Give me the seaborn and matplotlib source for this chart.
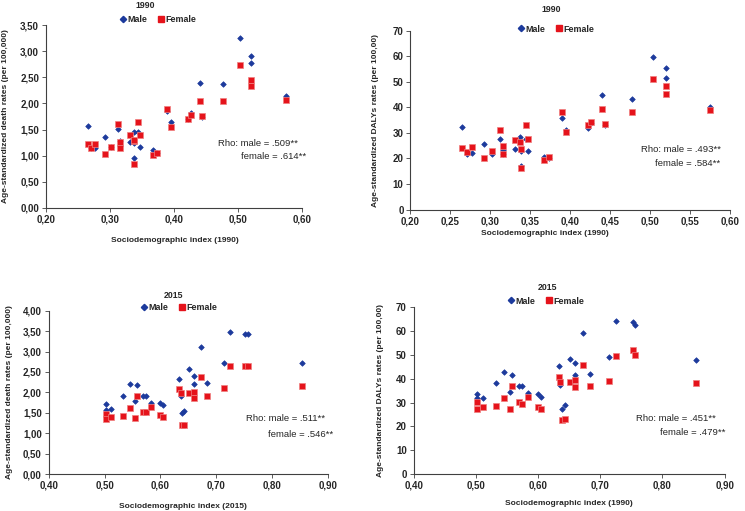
import matplotlib
matplotlib.use("Agg")
from matplotlib import pyplot as plt
from matplotlib import ticker
from matplotlib.lines import Line2D
import pandas as pd
import seaborn as sns

# SDI 1990 panels
sdi_1990 = [0.265, 0.271, 0.277, 0.292, 0.302, 0.312, 0.316, 0.316, 0.331, 0.337, 0.338, 0.338, 0.344, 0.347,
            0.367, 0.373, 0.389, 0.395, 0.422, 0.426, 0.440, 0.443, 0.477, 0.503, 0.520, 0.520, 0.574]
death_1990_male = [1.56, 1.14, 1.15, 1.35, 1.16, 1.51, 1.28, 1.18, 1.26, 1.45, 1.24, 0.95, 1.46, 1.16,
                   1.10, 1.05, 1.85, 1.64, 1.71, 1.81, 2.39, 1.75, 2.37, 3.25, 2.90, 2.77, 2.15]
death_1990_female = [1.22, 1.15, 1.22, 1.03, 1.16, 1.61, 1.27, 1.14, 1.39, 1.29, 1.31, 0.85, 1.64, 1.39,
                     1.02, 1.05, 1.90, 1.55, 1.71, 1.78, 2.04, 1.76, 2.04, 2.74, 2.45, 2.34, 2.07]
daly_1990_male = [32.4, 21.7, 22.3, 25.6, 21.7, 27.8, 23.5, 21.7, 23.6, 28.6, 23.0, 17.2, 27.8, 23.0,
                  20.6, 20.1, 35.8, 31.1, 32.1, 34.0, 44.8, 33.0, 43.4, 59.8, 55.5, 51.7, 40.0]
daly_1990_female = [24.0, 22.5, 24.6, 20.0, 22.9, 31.1, 24.9, 21.9, 27.2, 26.5, 23.9, 16.3, 33.0, 27.8,
                    19.6, 20.6, 38.4, 30.4, 33.3, 34.3, 39.2, 33.7, 38.1, 51.3, 48.3, 45.1, 38.9]

# SDI 2015 panels
sdi_2015 = [0.502, 0.502, 0.511, 0.533, 0.546, 0.5545, 0.5575, 0.5695, 0.574, 0.584, 0.600, 0.604, 0.633,
            0.636, 0.638, 0.643, 0.651, 0.660, 0.660, 0.673, 0.684, 0.714, 0.725, 0.752, 0.756, 0.854]
death_2015_male = [1.72, 1.57, 1.60, 1.90, 2.20, 1.79, 2.18, 1.90, 1.91, 1.73, 1.74, 1.69, 2.33,
                   1.92, 1.50, 1.54, 2.58, 2.40, 2.20, 3.12, 2.23, 2.71, 3.48, 3.42, 3.43, 2.73]
death_2015_female = [1.48, 1.35, 1.40, 1.43, 1.62, 1.37, 1.92, 1.52, 1.52, 1.64, 1.45, 1.39, 2.08,
                     1.98, 1.20, 1.21, 1.98, 2.02, 1.86, 2.38, 1.92, 2.10, 2.64, 2.65, 2.64, 2.15]
daly_2015_male = [33.5, 31.8, 32.1, 38.1, 42.7, 34.4, 41.4, 37.1, 36.9, 33.9, 33.5, 32.5, 45.2,
                  37.4, 27.3, 29.1, 48.2, 46.5, 41.7, 59.2, 42.1, 49.3, 64.5, 64.0, 62.6, 48.0]
daly_2015_female = [30.1, 27.2, 28.0, 28.7, 32.1, 27.2, 37.1, 30.2, 29.4, 32.5, 28.0, 27.4, 40.9,
                    38.8, 22.5, 23.0, 38.6, 39.3, 36.4, 45.8, 37.1, 39.2, 49.6, 51.9, 50.0, 38.1]

MALE = "#1c3a9c"
FEMALE = "#e5131b"
FONT = ["Liberation Sans", "DejaVu Sans"]

sns.set_style("white")
plt.rcParams["font.family"] = FONT

fig = plt.figure(figsize=(7.45, 5.11), dpi=100)


def comma_fmt(decimals):
    return ticker.FuncFormatter(lambda v, _: f"{v:.{decimals}f}".replace(".", ","))


panels = [
    dict(rect=[0.0617, 0.593, 0.344, 0.358], x=sdi_1990, m=death_1990_male, f=death_1990_female,
         xlim=(0.2, 0.6), xstep=0.1, ylim=(0, 3.5), ystep=0.5, ydec=2,
         ylabel="Age-standardized death rates (per 100,000)", xlabel="Sociodemographic index (1990)",
         rho=(".509**", ".614**"), rho_pos=((0.984, 0.35), (1.016, 0.279)),
         title="1990", title_xy=(145, 6), leg_xy=(158, 20), ylab_x=-0.145, xlab=(0.504, -0.158)),
    dict(rect=[0.551, 0.590, 0.4295, 0.3495], x=sdi_1990, m=daly_1990_male, f=daly_1990_female,
         xlim=(0.2, 0.6), xstep=0.05, ylim=(0, 70), ystep=10, ydec=0,
         ylabel="Age-standardized DALYs rates (per 100,00)", xlabel="Sociodemographic index (1990)",
         rho=(".493**", ".584**"), rho_pos=((0.969, 0.338), (0.969, 0.259)),
         title="1990", title_xy=(551, 10), leg_xy=(556, 29), ylab_x=-0.097, xlab=(0.42, -0.116)),
    dict(rect=[0.0653, 0.0724, 0.375, 0.3196], x=sdi_2015, m=death_2015_male, f=death_2015_female,
         xlim=(0.4, 0.9), xstep=0.1, ylim=(0, 4.0), ystep=0.5, ydec=2,
         ylabel="Age-standardized death rates (per 100,000)", xlabel="Sociodemographic index (2015)",
         rho=(".511**", ".546**"), rho_pos=((0.989, 0.337), (1.018, 0.239)),
         title="2015", title_xy=(173, 295), leg_xy=(179, 308), ylab_x=-0.128, xlab=(0.48, -0.178)),
    dict(rect=[0.5553, 0.0724, 0.4174, 0.326], x=sdi_2015, m=daly_2015_male, f=daly_2015_female,
         xlim=(0.4, 0.9), xstep=0.1, ylim=(0, 70), ystep=10, ydec=0,
         ylabel="Age-standardized DALYs rates (per 100,00)", xlabel="Sociodemographic index (1990)",
         rho=(".451**", ".479**"), rho_pos=((0.972, 0.336), (1.001, 0.252)),
         title="2015", title_xy=(548, 288), leg_xy=(546, 301), ylab_x=-0.095, xlab=(0.50, -0.156)),
]

W, H = 745, 511

for p in panels:
    ax = fig.add_axes(p["rect"])
    male_df = pd.DataFrame({"sdi": p["x"], "rate": p["m"]})
    female_df = pd.DataFrame({"sdi": p["x"], "rate": p["f"]})
    sns.scatterplot(data=male_df, x="sdi", y="rate", ax=ax, marker="D", s=8, color=MALE,
                    edgecolor=MALE, linewidth=0.5, legend=False)
    sns.scatterplot(data=female_df, x="sdi", y="rate", ax=ax, marker="s", s=24, color=FEMALE,
                    edgecolor="#f08080", linewidth=0.5, legend=False)

    ax.set_xlim(*p["xlim"])
    ax.set_ylim(*p["ylim"])
    ax.xaxis.set_major_locator(ticker.MultipleLocator(p["xstep"]))
    ax.yaxis.set_major_locator(ticker.MultipleLocator(p["ystep"]))
    ax.xaxis.set_major_formatter(comma_fmt(2))
    ax.yaxis.set_major_formatter(comma_fmt(p["ydec"]))
    for s in ["top", "right"]:
        ax.spines[s].set_visible(False)
    for s in ["left", "bottom"]:
        ax.spines[s].set_color("#404040")
        ax.spines[s].set_linewidth(0.8)
    ax.tick_params(axis="both", direction="out", length=3, width=0.6, color="#404040",
                   labelsize=7, pad=2, left=True, bottom=True)
    for lab in ax.get_xticklabels() + ax.get_yticklabels():
        lab.set_fontweight("bold")

    ax.set_ylabel(p["ylabel"], fontsize=6, fontweight="bold")
    ax.set_xlabel(p["xlabel"], fontsize=6, fontweight="bold")
    ax.yaxis.set_label_coords(p["ylab_x"], 0.5)
    ax.xaxis.set_label_coords(*p["xlab"])

    (x1, y1), (x2, y2) = p["rho_pos"]
    ax.text(x1, y1, f"Rho: male = {p['rho'][0]}", transform=ax.transAxes, ha="right", va="center",
            fontsize=6.8)
    ax.text(x2, y2, f"female = {p['rho'][1]}", transform=ax.transAxes, ha="right", va="center",
            fontsize=6.8)

    tx, ty = p["title_xy"]
    fig.text(tx / W, 1 - ty / H, p["title"], ha="center", va="center", fontsize=6.3, fontweight="bold")

    handles = [
        Line2D([], [], marker="D", linestyle="", color=MALE, markersize=3.2, label="Male"),
        Line2D([], [], marker="s", linestyle="", color=FEMALE, markersize=5, label="Female"),
    ]
    lx, ly = p["leg_xy"]
    ax.legend(handles=handles, loc="center", bbox_to_anchor=(lx / W, 1 - ly / H),
              bbox_transform=fig.transFigure, ncol=2, frameon=False, handlelength=0.6,
              handletextpad=0.2, columnspacing=1.2, borderpad=0, borderaxespad=0,
              prop={"size": 6.4, "weight": "bold", "family": FONT})

fig.savefig("out.png", dpi=100)
